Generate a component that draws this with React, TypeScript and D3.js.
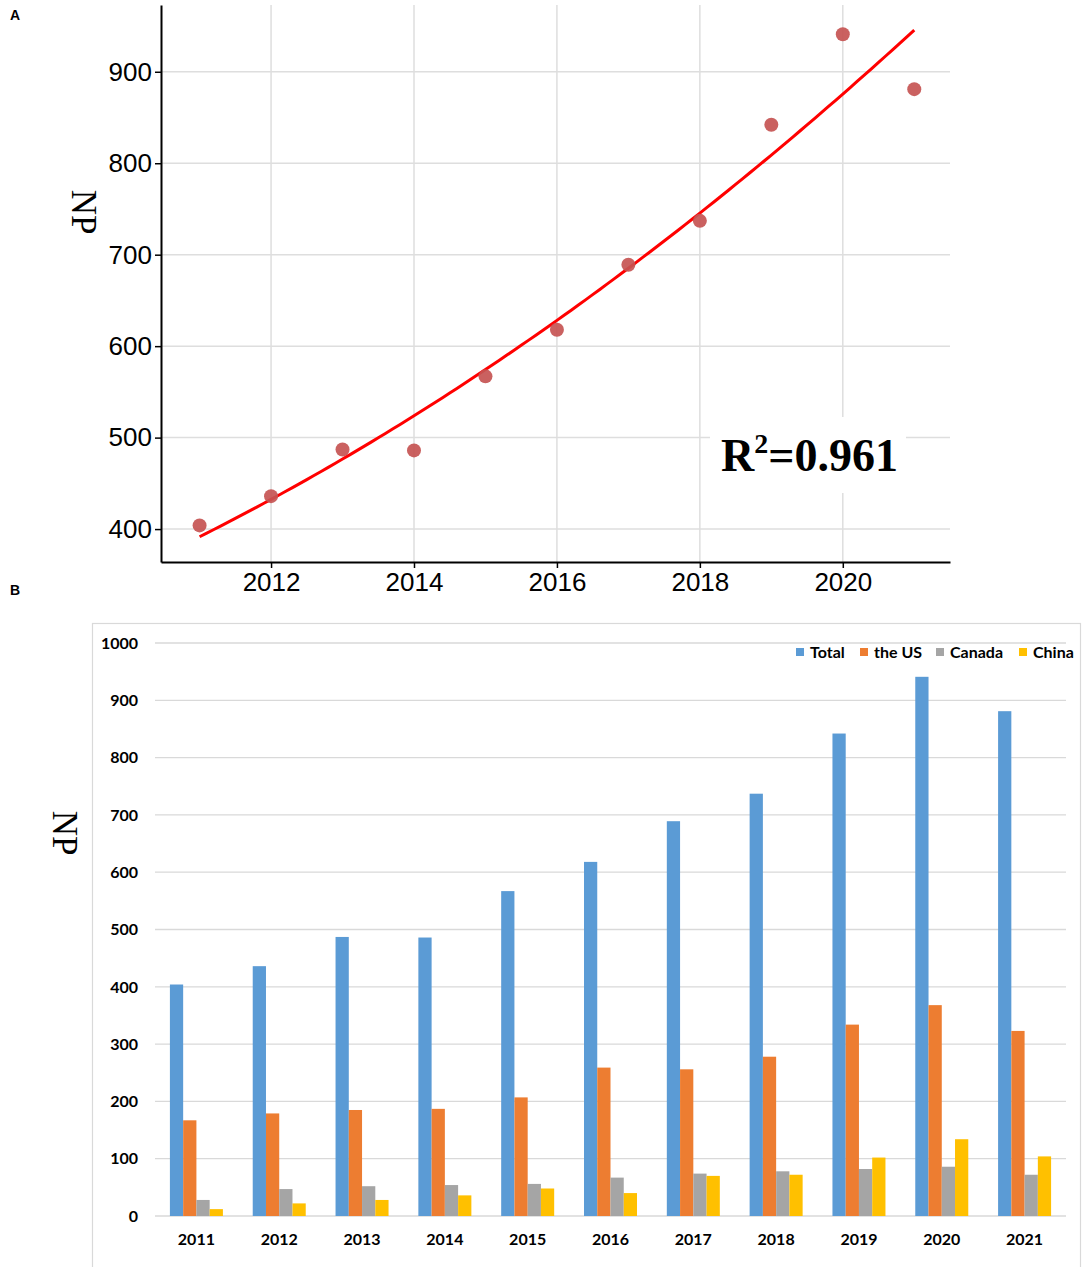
import React, { useEffect, useRef } from 'react';
import * as d3 from 'd3';

const years = [2011, 2012, 2013, 2014, 2015, 2016, 2017, 2018, 2019, 2020, 2021];
const totalNP = [404, 436, 487, 486, 567, 618, 689, 737, 842, 941, 881];
const usNP = [167, 179, 185, 187, 207, 259, 256, 278, 334, 368, 323];
const canadaNP = [28, 47, 52, 54, 56, 67, 74, 78, 82, 86, 72];
const chinaNP = [12, 22, 28, 36, 48, 40, 70, 72, 102, 134, 104];

const seriesNames = ['Total', 'the US', 'Canada', 'China'];
const seriesColors = ['#5B9BD5', '#ED7D31', '#A5A5A5', '#FFC000'];

const topYTicks = [400, 500, 600, 700, 800, 900];
const topXTicks = [2012, 2014, 2016, 2018, 2020];
const barYTicks = [0, 100, 200, 300, 400, 500, 600, 700, 800, 900, 1000];

// least squares quadratic fit of totals vs year
function quadFit(xs: number[], ys: number[]) {
  const x0 = d3.mean(xs) as number;
  const t = xs.map(x => x - x0);
  const n = t.length;
  const s1 = d3.sum(t);
  const s2 = d3.sum(t, v => v * v);
  const s3 = d3.sum(t, v => v * v * v);
  const s4 = d3.sum(t, v => v ** 4);
  const sy = d3.sum(ys);
  const sty = d3.sum(t, (v, i) => v * ys[i]);
  const st2y = d3.sum(t, (v, i) => v * v * ys[i]);
  // solve 3x3 normal equations
  const A = [
    [n, s1, s2, sy],
    [s1, s2, s3, sty],
    [s2, s3, s4, st2y],
  ];
  for (let i = 0; i < 3; i++) {
    for (let k = i + 1; k < 3; k++) {
      const f = A[k][i] / A[i][i];
      for (let j = i; j < 4; j++) A[k][j] -= f * A[i][j];
    }
  }
  const c = [0, 0, 0];
  for (let i = 2; i >= 0; i--) {
    let s = A[i][3];
    for (let j = i + 1; j < 3; j++) s -= A[i][j] * c[j];
    c[i] = s / A[i][i];
  }
  return (x: number) => c[0] + c[1] * (x - x0) + c[2] * (x - x0) ** 2;
}

export default function App() {
  const svgRef = useRef<SVGSVGElement>(null);

  useEffect(() => {
    if (!svgRef.current) return;
    const svg = d3.select(svgRef.current);
    svg.selectAll('*').remove();

    // ---------- Panel A ----------
    const x = d3.scaleLinear().domain([2010.46, 2021.5]).range([161, 950]);
    const y = d3.scaleLinear().domain([364, 973]).range([562, 5]);

    svg.append('text')
      .attr('x', 10).attr('y', 20)
      .attr('font-family', 'Liberation Sans, Arial, sans-serif')
      .attr('font-weight', 'bold').attr('font-size', 14)
      .text('A');

    const grid = svg.append('g').attr('stroke', '#DEDEDE').attr('stroke-width', 1.5);
    grid.selectAll('line.h').data(topYTicks).join('line')
      .attr('x1', x.range()[0]).attr('x2', x.range()[1])
      .attr('y1', d => y(d)).attr('y2', d => y(d));
    grid.selectAll('line.v').data(topXTicks).join('line')
      .attr('x1', d => x(d)).attr('x2', d => x(d))
      .attr('y1', y.range()[0]).attr('y2', y.range()[1]);

    // R² label box masks grid
    svg.append('rect')
      .attr('x', 710).attr('y', 417).attr('width', 196).attr('height', 76)
      .attr('fill', '#fff');

    const fit = quadFit(years, totalNP);
    const curve = d3.range(years[0], years[years.length - 1] + 0.001, 0.1);
    svg.append('path')
      .datum(curve)
      .attr('fill', 'none')
      .attr('stroke', '#FF0000')
      .attr('stroke-width', 3)
      .attr('d', d3.line<number>().x(d => x(d)).y(d => y(fit(d))));

    svg.append('g').selectAll('circle').data(years).join('circle')
      .attr('cx', d => x(d))
      .attr('cy', (d, i) => y(totalNP[i]))
      .attr('r', 7)
      .attr('fill', '#C65452')
      .attr('fill-opacity', 0.92);

    const axisFont = (g: any) => g
      .attr('font-family', 'Liberation Sans, Arial, sans-serif')
      .attr('font-size', 26)
      .call((s: any) => s.selectAll('text').attr('fill', '#000'))
      .call((s: any) => s.selectAll('line').attr('stroke', '#000').attr('stroke-width', 1.5))
      .call((s: any) => s.select('.domain').attr('stroke', '#000').attr('stroke-width', 2));

    svg.append('g')
      .attr('transform', `translate(${x.range()[0]},0)`)
      .call(d3.axisLeft(y).tickValues(topYTicks).tickSize(6).tickSizeOuter(0).tickPadding(3))
      .call(axisFont);

    svg.append('g')
      .attr('transform', `translate(0,${y.range()[0]})`)
      .call(d3.axisBottom(x).tickValues(topXTicks).tickFormat(d3.format('d')).tickSize(6).tickSizeOuter(0).tickPadding(5))
      .call(axisFont);

    svg.append('text')
      .attr('transform', 'translate(72,212) rotate(90)')
      .attr('text-anchor', 'middle')
      .attr('font-family', 'Liberation Serif, Times New Roman, serif')
      .attr('font-size', 35)
      .text('NP');

    const r2 = svg.append('text')
      .attr('x', 721).attr('y', 471)
      .attr('font-family', 'Liberation Serif, Times New Roman, serif')
      .attr('font-weight', 'bold')
      .attr('font-size', 46);
    r2.append('tspan').text('R');
    r2.append('tspan').attr('font-size', 28).attr('dy', -18).text('2');
    r2.append('tspan').attr('dy', 18).text('=0.961');

    // ---------- Panel B ----------
    svg.append('text')
      .attr('x', 10).attr('y', 595)
      .attr('font-family', 'Liberation Sans, Arial, sans-serif')
      .attr('font-weight', 'bold').attr('font-size', 14)
      .text('B');

    svg.append('rect')
      .attr('x', 92.5).attr('y', 623.5).attr('width', 988).attr('height', 660)
      .attr('fill', '#fff').attr('stroke', '#D9D9D9').attr('stroke-width', 1.2);

    const x0 = d3.scaleBand<number>().domain(years).range([155, 1066]).paddingInner(0.36).paddingOuter(0.18);
    const x1 = d3.scaleBand<string>().domain(seriesNames).range([0, x0.bandwidth()]);
    const yb = d3.scaleLinear().domain([0, 1000]).range([1216, 643]);
    const seriesValues = [totalNP, usNP, canadaNP, chinaNP];

    svg.append('g').attr('stroke', '#D9D9D9').attr('stroke-width', 1.3)
      .selectAll('line').data(barYTicks).join('line')
      .attr('x1', 155).attr('x2', 1066)
      .attr('y1', d => yb(d)).attr('y2', d => yb(d));

    const bFont = 'Lato, Open Sans, sans-serif';
    svg.append('g').selectAll('text').data(barYTicks).join('text')
      .attr('x', 138).attr('y', d => yb(d)).attr('dy', '0.36em')
      .attr('text-anchor', 'end')
      .attr('font-family', bFont).attr('font-weight', 'bold').attr('font-size', 16)
      .text(d => d);

    svg.append('g').selectAll('text').data(years).join('text')
      .attr('x', d => (x0(d) as number) + x0.bandwidth() / 2)
      .attr('y', 1239).attr('dy', '0.36em')
      .attr('text-anchor', 'middle')
      .attr('font-family', bFont).attr('font-weight', 'bold').attr('font-size', 16)
      .text(d => d);

    const groups = svg.append('g').selectAll('g').data(years).join('g')
      .attr('transform', d => `translate(${x0(d)},0)`);
    groups.selectAll('rect')
      .data((d, i) => seriesNames.map((s, k) => ({ s, k, v: seriesValues[k][i] })))
      .join('rect')
      .attr('x', d => x1(d.s) as number)
      .attr('width', x1.bandwidth())
      .attr('y', d => yb(d.v))
      .attr('height', d => yb(0) - yb(d.v))
      .attr('fill', d => seriesColors[d.k]);

    const legendX = [796, 860, 936, 1019];
    const legend = svg.append('g').selectAll('g').data(seriesNames).join('g')
      .attr('transform', (d, i) => `translate(${legendX[i]},652)`);
    legend.append('rect')
      .attr('x', 0).attr('y', -4).attr('width', 8).attr('height', 8)
      .attr('fill', (d, i) => seriesColors[i]);
    legend.append('text')
      .attr('x', 14).attr('dy', '0.36em')
      .attr('font-family', bFont).attr('font-weight', 'bold').attr('font-size', 16)
      .text(d => d);

    svg.append('text')
      .attr('transform', 'translate(53,833) rotate(90)')
      .attr('text-anchor', 'middle')
      .attr('font-family', 'Liberation Serif, Times New Roman, serif')
      .attr('font-size', 35)
      .text('NP');
  }, []);

  return (
    <svg
      ref={svgRef}
      width={1084}
      height={1267}
      style={{ position: 'absolute', left: 0, top: 0, background: '#fff' }}
    />
  );
}
